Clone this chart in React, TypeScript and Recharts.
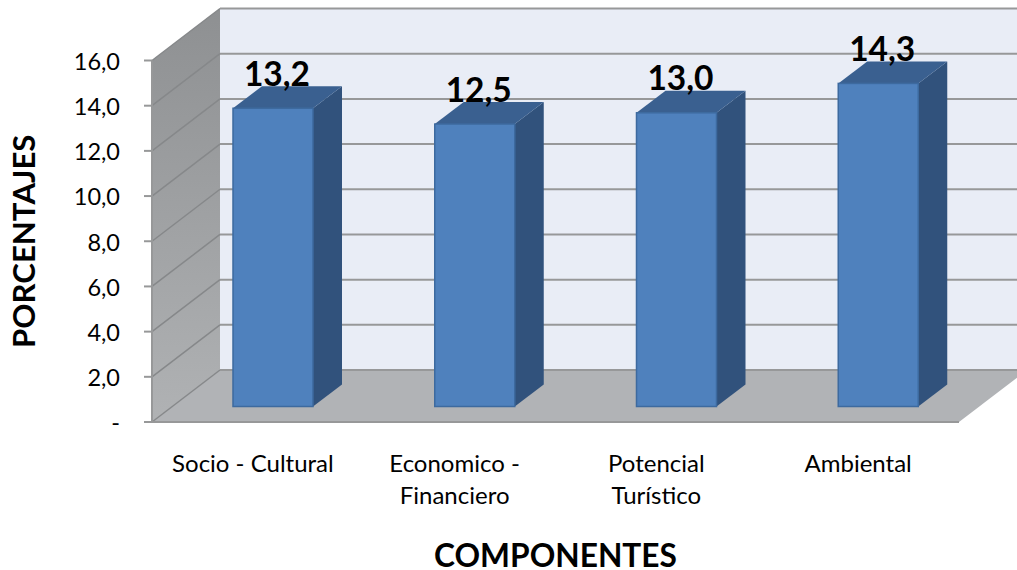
import { Bar, BarChart, CartesianGrid, LabelList, ReferenceArea, XAxis, YAxis } from 'recharts';

const categories = ['Socio - Cultural', 'Economico -\nFinanciero', 'Potencial\nTurístico', 'Ambiental'];
const values = [13.2, 12.5, 13.0, 14.3];
const yTicks = [0, 2, 4, 6, 8, 10, 12, 14, 16];

const data = categories.map((name, i) => ({ name, value: values[i] }));

const FONT = 'Lato, sans-serif';
// wall depth of the fake 3D box
const DX = 68;
const DY = 52;
const GRID = '#979899';

const formatTick = (v: number) => (v === 0 ? '-' : v.toFixed(1).replace('.', ','));

function Walls({ x, y, width, height }: any) {
  const b = y + height;
  const r = x + width;
  return (
    <g>
      <defs>
        <linearGradient id="sideWall" x1="0" y1="0" x2="0" y2="1">
          <stop offset="0%" stopColor="#8e9092" />
          <stop offset="100%" stopColor="#b0b2b4" />
        </linearGradient>
      </defs>
      <rect x={x + DX} y={y - DY} width={width} height={height} fill="#e9edf6" />
      <polygon
        points={`${x},${y} ${x + DX},${y - DY} ${x + DX},${b - DY} ${x},${b}`}
        fill="url(#sideWall)"
      />
      <polygon points={`${x},${b} ${x + DX},${b - DY} ${r + DX},${b - DY} ${r},${b}`} fill="#b1b3b6" />
    </g>
  );
}

function GridLine({ x1, y1, x2 }: any) {
  return (
    <g fill="none">
      <line x1={x1} y1={y1} x2={x1 + DX} y2={y1 - DY} stroke="#86888a" strokeWidth={1.5} />
      <line x1={x1 + DX} y1={y1 - DY} x2={x2 + DX} y2={y1 - DY} stroke={GRID} strokeWidth={2} />
    </g>
  );
}

function Bar3D({ x, y, width, height }: any) {
  // bars stand part way into the floor
  const bx = x + 20;
  const by = y - 15.5;
  const d = 29;
  const h = 22;
  return (
    <g>
      <polygon
        points={`${bx + width},${by} ${bx + width + d},${by - h} ${bx + width + d},${by + height - h} ${bx + width},${by + height}`}
        fill="#31527c"
      />
      <polygon
        points={`${bx},${by} ${bx + d},${by - h} ${bx + width + d},${by - h} ${bx + width},${by}`}
        fill="#3a6090"
      />
      <rect x={bx} y={by} width={width} height={height} fill="#4f81bd" stroke="#3d6a9f" strokeWidth={1.5} />
    </g>
  );
}

function ValueLabel({ x, y, width, value }: any) {
  return (
    <text
      x={x + width / 2 + 24}
      y={y - 38}
      textAnchor="middle"
      fontFamily={FONT}
      fontWeight={700}
      fontSize={33.5}
      fill="#000"
    >
      {String(value.toFixed(1)).replace('.', ',')}
    </text>
  );
}

function CategoryTick({ x, payload }: any) {
  const lines = String(payload.value).split('\n');
  return (
    <g>
      {lines.map((line, i) => (
        <text key={line} x={x} y={472 + i * 32} textAnchor="middle" fontFamily={FONT} fontSize={24} fill="#000">
          {line}
        </text>
      ))}
    </g>
  );
}

export default function App() {
  return (
    <div style={{ position: 'fixed', left: 0, top: 0, width: 1017, height: 570, background: '#fff', overflow: 'hidden' }}>
      <BarChart
        width={1017}
        height={570}
        data={data}
        barSize={80}
        margin={{ top: 60.5, right: 58, bottom: 88, left: 92 }}
      >
        <ReferenceArea y1={0} y2={16} ifOverflow="visible" shape={Walls} zIndex={-200} />
        <CartesianGrid horizontal={GridLine} vertical={false} />
        <XAxis
          dataKey="name"
          height={60}
          interval={0}
          tick={CategoryTick}
          tickLine={false}
          axisLine={{ stroke: GRID, strokeWidth: 2 }}
          label={{
            value: 'COMPONENTES',
            position: 'bottom',
            offset: 62,
            fill: '#000',
            style: { fontFamily: FONT, fontWeight: 700, fontSize: 31.7 },
          }}
        />
        <YAxis
          width={60}
          domain={[0, 16]}
          ticks={yTicks}
          interval={0}
          tickFormatter={formatTick}
          tickSize={8}
          tickMargin={24}
          tickLine={{ stroke: GRID, strokeWidth: 2 }}
          axisLine={{ stroke: GRID, strokeWidth: 2 }}
          tick={{ fontFamily: FONT, fontSize: 23.5, fill: '#000', dy: 1 }}
          label={{
            value: 'PORCENTAJES',
            angle: -90,
            position: 'left',
            offset: 68,
            fill: '#000',
            style: { fontFamily: FONT, fontWeight: 700, fontSize: 31.2, textAnchor: 'middle' },
          }}
        />
        <Bar dataKey="value" shape={Bar3D} isAnimationActive={false}>
          <LabelList dataKey="value" content={ValueLabel} />
        </Bar>
      </BarChart>
    </div>
  );
}
